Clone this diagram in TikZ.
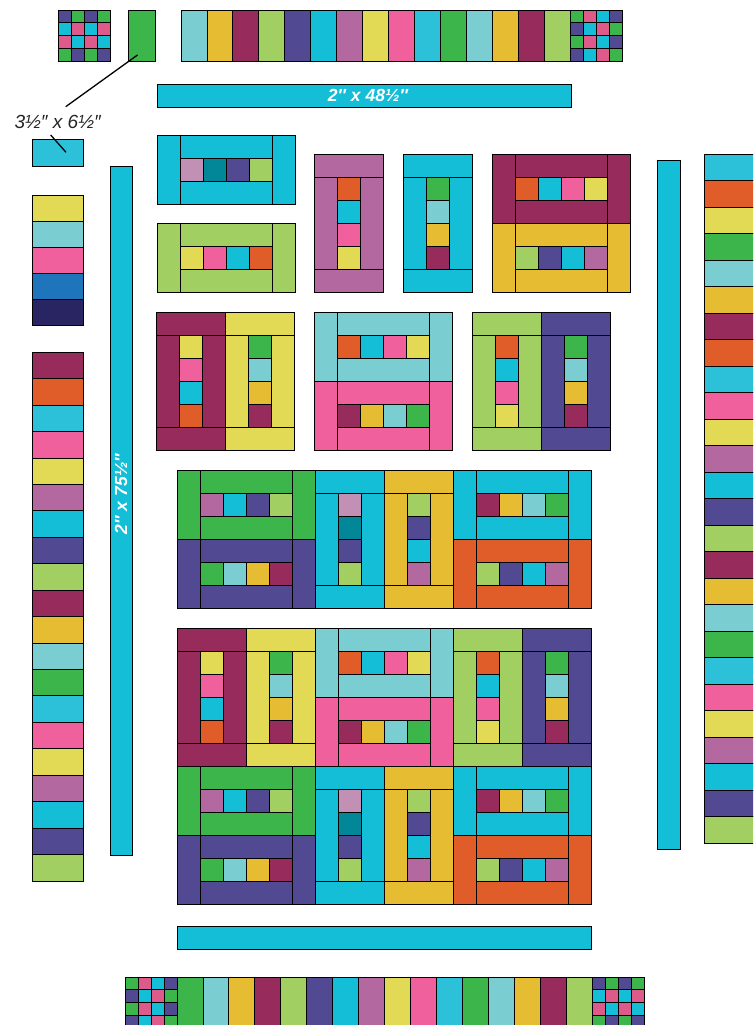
\documentclass[tikz,border=0pt]{standalone}
\usepackage{fontspec}
\setmainfont{Liberation Sans}
\definecolor{qcyan}{HTML}{14BED7}
\definecolor{qsky}{HTML}{2DC1D9}
\definecolor{qgold}{HTML}{E6BC33}
\definecolor{qplum}{HTML}{962B5C}
\definecolor{qlime}{HTML}{A2CF62}
\definecolor{qind}{HTML}{514A93}
\definecolor{qmauve}{HTML}{B468A0}
\definecolor{qyel}{HTML}{E2DA55}
\definecolor{qpink}{HTML}{F0609C}
\definecolor{qcpink}{HTML}{DE5A8A}
\definecolor{qgreen}{HTML}{3CB54A}
\definecolor{qaqua}{HTML}{7ACED2}
\definecolor{qorange}{HTML}{E05D2A}
\definecolor{qlilac}{HTML}{C28FB5}
\definecolor{qteal}{HTML}{018797}
\definecolor{qblue}{HTML}{1F75BC}
\definecolor{qnavy}{HTML}{292462}
\tikzset{
  pc/.style={draw=black, line width=0.8pt},
  barlabel/.style={text=white, font=\fontsize{17.5}{17.5}\selectfont\bfseries\itshape, inner sep=0pt},
  dimlabel/.style={text=black!85, font=\fontsize{19}{19}\selectfont\itshape, inner sep=0pt},
  pointer/.style={draw=black, line width=1.3pt}
}
\newcommand{\hblk}[7]{%
\begin{scope}[shift={(#1,#2)}]
\filldraw[pc,fill=#3] (0,0) rectangle (23,69) (115,0) rectangle (138,69) (23,0) rectangle (115,23) (23,46) rectangle (115,69);
\filldraw[pc,fill=#4] (23,23) rectangle (46,46);
\filldraw[pc,fill=#5] (46,23) rectangle (69,46);
\filldraw[pc,fill=#6] (69,23) rectangle (92,46);
\filldraw[pc,fill=#7] (92,23) rectangle (115,46);
\end{scope}}
\newcommand{\vblk}[7]{%
\begin{scope}[shift={(#1,#2)}]
\filldraw[pc,fill=#3] (0,0) rectangle (69,23) (0,115) rectangle (69,138) (0,23) rectangle (23,115) (46,23) rectangle (69,115);
\filldraw[pc,fill=#4] (23,23) rectangle (46,46);
\filldraw[pc,fill=#5] (23,46) rectangle (46,69);
\filldraw[pc,fill=#6] (23,69) rectangle (46,92);
\filldraw[pc,fill=#7] (23,92) rectangle (46,115);
\end{scope}}
\newcommand{\checker}[3]{%
\foreach \rw [count=\j from 0] in {#3} {\foreach \c [count=\i from 0] in \rw {\filldraw[pc,fill=\c] ({#1+13*\i},{#2+12.8*\j}) rectangle ++(13,12.8);}}}
\newcommand{\pairA}[2]{% V plum + V yellow
\vblk{#1}{#2}{qplum}{qyel}{qpink}{qcyan}{qorange}
\vblk{#1+69}{#2}{qyel}{qgreen}{qaqua}{qgold}{qplum}}
\newcommand{\pairB}[2]{% H aqua over H pink
\hblk{#1}{#2}{qaqua}{qorange}{qcyan}{qpink}{qyel}
\hblk{#1}{#2+69}{qpink}{qplum}{qgold}{qaqua}{qgreen}}
\newcommand{\pairC}[2]{% V lime + V indigo
\vblk{#1}{#2}{qlime}{qorange}{qcyan}{qpink}{qyel}
\vblk{#1+69}{#2}{qind}{qgreen}{qaqua}{qgold}{qplum}}
\newcommand{\pairD}[2]{% H green over H indigo
\hblk{#1}{#2}{qgreen}{qmauve}{qcyan}{qind}{qlime}
\hblk{#1}{#2+69}{qind}{qgreen}{qaqua}{qgold}{qplum}}
\newcommand{\pairE}[2]{% V cyan + V gold
\vblk{#1}{#2}{qcyan}{qlilac}{qteal}{qind}{qlime}
\vblk{#1+69}{#2}{qgold}{qlime}{qind}{qcyan}{qmauve}}
\newcommand{\pairF}[2]{% H cyan over H orange
\hblk{#1}{#2}{qcyan}{qplum}{qgold}{qaqua}{qgreen}
\hblk{#1}{#2+69}{qorange}{qlime}{qind}{qcyan}{qmauve}}
\begin{document}
\begin{tikzpicture}[x=1pt,y=-1pt]
\useasboundingbox (0,0) rectangle (753,1025);
\clip (0,0) rectangle (753,1025);
\fill[white] (0,0) rectangle (753,1025);
% ---- top row
\checker{58}{10}{{qind,qgreen,qind,qgreen},{qcyan,qcpink,qcyan,qcpink},{qcpink,qcyan,qcpink,qcyan},{qgreen,qind,qgreen,qind}}
\node[pc, fill=qgreen, anchor=north west, inner sep=0pt, minimum width=27pt, minimum height=51.2pt] (grn) at (128,10) {};
\foreach \c [count=\i from 0] in {qaqua,qgold,qplum,qlime,qind,qcyan,qmauve,qyel,qpink,qsky,qgreen,qaqua,qgold,qplum,qlime}
  \filldraw[pc,fill=\c] ({181+25.93*\i},10) rectangle ++(25.93,51.2);
\checker{570}{10}{{qgreen,qcpink,qcyan,qind},{qind,qcyan,qcpink,qgreen},{qgreen,qcpink,qcyan,qind},{qind,qcyan,qcpink,qgreen}}
% ---- bar 48 1/2
\node[pc, fill=qcyan, anchor=north west, inner sep=0pt, minimum width=413.5pt, minimum height=22.5pt] (bar48) at (157,84.3) {};
\node[barlabel] (lbl48) at (368,95.5) {2″ x 48½″};
% ---- pointer & dim label
\node[dimlabel] (lbl35) at (57.7,121.5) {3½″ x 6½″};
\node[pc, fill=qsky, anchor=north west, inner sep=0pt, minimum width=51pt, minimum height=26.7pt] (small) at (32.3,139.3) {};
\coordinate (p1) at (137.5,55);
\coordinate (p2) at (65.7,106.7);
\coordinate (p3) at (50.7,135);
\coordinate (p4) at (66,152.3);
\draw[pointer] (p1) -- (p2);
\draw[pointer] (p3) -- (p4);
% ---- left columns
\foreach \c [count=\i from 0] in {qyel,qaqua,qpink,qblue,qnavy}
  \filldraw[pc,fill=\c] (32.3,{195.3+26.08*\i}) rectangle ++(51,26.08);
\foreach \c [count=\i from 0] in {qplum,qorange,qsky,qpink,qyel,qmauve,qcyan,qind,qlime,qplum,qgold,qaqua,qgreen,qsky,qpink,qyel,qmauve,qcyan,qind,qlime}
  \filldraw[pc,fill=\c] (32.3,{352.3+26.43*\i}) rectangle ++(51,26.43);
% ---- long bars
\node[pc, fill=qcyan, anchor=north west, inner sep=0pt, minimum width=22.3pt, minimum height=689pt] (bar75) at (110,166) {};
\node[barlabel, rotate=90] (lbl75) at (121,494) {2″ x 75½″};
\node[pc, fill=qcyan, anchor=north west, inner sep=0pt, minimum width=22.4pt, minimum height=689pt] (barR) at (657.3,160) {};
\foreach \c [count=\i from 0] in {qsky,qorange,qyel,qgreen,qaqua,qgold,qplum,qorange,qsky,qpink,qyel,qmauve,qcyan,qind,qlime,qplum,qgold,qaqua,qgreen,qsky,qpink,qyel,qmauve,qcyan,qind,qlime}
  \filldraw[pc,fill=\c] (704.3,{154.3+26.5*\i}) rectangle ++(60,26.5);
% ---- row 1 blocks
\hblk{157}{135}{qcyan}{qlilac}{qteal}{qind}{qlime}
\hblk{157}{223.5}{qlime}{qyel}{qpink}{qcyan}{qorange}
\vblk{314.5}{154.5}{qmauve}{qorange}{qcyan}{qpink}{qyel}
\vblk{403.5}{154.5}{qcyan}{qgreen}{qaqua}{qgold}{qplum}
\hblk{492.5}{154.5}{qplum}{qorange}{qcyan}{qpink}{qyel}
\hblk{492.5}{223.5}{qgold}{qlime}{qind}{qcyan}{qmauve}
% ---- row 2
\pairA{156.8}{312.5}
\pairB{314.5}{312.5}
\pairC{472.5}{312.5}
% ---- row 3
\pairD{177}{470}
\pairE{315}{470}
\pairF{453}{470}
% ---- row 4
\pairA{177}{628}
\pairB{315}{628}
\pairC{453}{628}
\pairD{177}{766}
\pairE{315}{766}
\pairF{453}{766}
% ---- bottom bar
\node[pc, fill=qcyan, anchor=north west, inner sep=0pt, minimum width=414pt, minimum height=23pt] (barB) at (177,925.5) {};
% ---- bottom row
\checker{125}{977}{{qgreen,qcpink,qcyan,qind},{qind,qcyan,qcpink,qgreen},{qgreen,qcpink,qcyan,qind},{qind,qcyan,qcpink,qgreen}}
\foreach \c [count=\i from 0] in {qgreen,qaqua,qgold,qplum,qlime,qind,qcyan,qmauve,qyel,qpink,qsky,qgreen,qaqua,qgold,qplum,qlime}
  \filldraw[pc,fill=\c] ({177+25.94*\i},977) rectangle ++(25.94,51.2);
\checker{592}{977}{{qind,qgreen,qind,qgreen},{qcyan,qcpink,qcyan,qcpink},{qcpink,qcyan,qcpink,qcyan},{qgreen,qind,qgreen,qind}}
\end{tikzpicture}
\end{document}
